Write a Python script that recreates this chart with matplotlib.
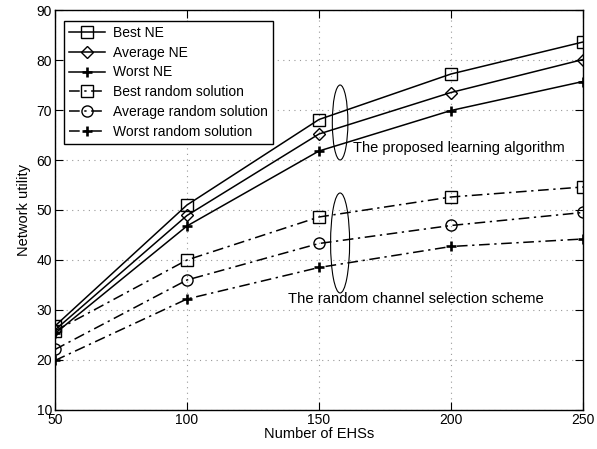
import matplotlib
matplotlib.use("Agg")
import matplotlib.pyplot as plt
from matplotlib.patches import Ellipse

plt.rcParams['font.family'] = ['Liberation Sans', 'DejaVu Sans']

x = [50, 100, 150, 200, 250]
best_ne = [26.8, 51.0, 68.1, 77.2, 83.6]
avg_ne = [26.0, 48.9, 65.2, 73.5, 80.1]
worst_ne = [25.3, 46.8, 61.8, 69.9, 75.7]
best_rand = [25.8, 40.0, 48.6, 52.6, 54.6]
avg_rand = [22.1, 36.0, 43.3, 46.9, 49.5]
worst_rand = [19.9, 32.2, 38.5, 42.7, 44.2]

labels = ['Best NE', 'Average NE', 'Worst NE',
          'Best random solution', 'Average random solution', 'Worst random solution']
xticks = [50, 100, 150, 200, 250]
yticks = [10, 20, 30, 40, 50, 60, 70, 80, 90]

fig = plt.figure(figsize=(5.97, 4.49), dpi=100)
ax = fig.add_axes([0.0921, 0.0869, 0.8844, 0.8908])

dd = (7, 3, 1.5, 3)
common = dict(color='black', lw=1.1, markerfacecolor='none', markeredgecolor='black')
ax.plot(x, best_ne, '-', marker='s', ms=8, mew=1.0, label=labels[0], **common)
ax.plot(x, avg_ne, '-', marker='D', ms=6.5, mew=1.0, label=labels[1], **common)
ax.plot(x, worst_ne, '-', marker='+', ms=7, mew=1.9, label=labels[2], **common)
ax.plot(x, best_rand, '-.', dashes=dd, marker='s', ms=8, mew=1.0, label=labels[3], **common)
ax.plot(x, avg_rand, '-.', dashes=dd, marker='o', ms=8, mew=1.0, label=labels[4], **common)
ax.plot(x, worst_rand, '-.', dashes=dd, marker='+', ms=7, mew=1.9, label=labels[5], **common)

ax.add_patch(Ellipse((158, 67.5), 5.9, 15.0, fill=False, edgecolor='black', lw=0.8))
ax.add_patch(Ellipse((158, 43.4), 7.2, 20.0, fill=False, edgecolor='black', lw=0.8))

ax.text(162.9, 62.4, 'The proposed learning algorithm', fontsize=10.5, va='center', ha='left')
ax.text(138.3, 32.2, 'The random channel selection scheme', fontsize=10.7, va='center', ha='left')

ax.set_xlim(50, 250)
ax.set_ylim(10, 90)
ax.set_xticks(xticks)
ax.set_yticks(yticks)
ax.tick_params(direction='in', top=True, right=True, labelsize=10, length=6, pad=2)
ax.grid(True, linestyle=(0, (1, 4)), color='#999999', lw=0.8)
for s in ax.spines.values():
    s.set_linewidth(1.0)

ax.set_xlabel('Number of EHSs', fontsize=10.5, labelpad=0)
ax.set_ylabel('Network utility', fontsize=10.5, labelpad=4)

leg = ax.legend(loc='upper left', bbox_to_anchor=(0.004, 0.99), fontsize=10,
                fancybox=False, framealpha=1, edgecolor='black',
                handlelength=2.6, labelspacing=0.42, borderpad=0.35, handletextpad=0.6)
leg.get_frame().set_linewidth(1.0)

fig.savefig('out.png', dpi=100)
